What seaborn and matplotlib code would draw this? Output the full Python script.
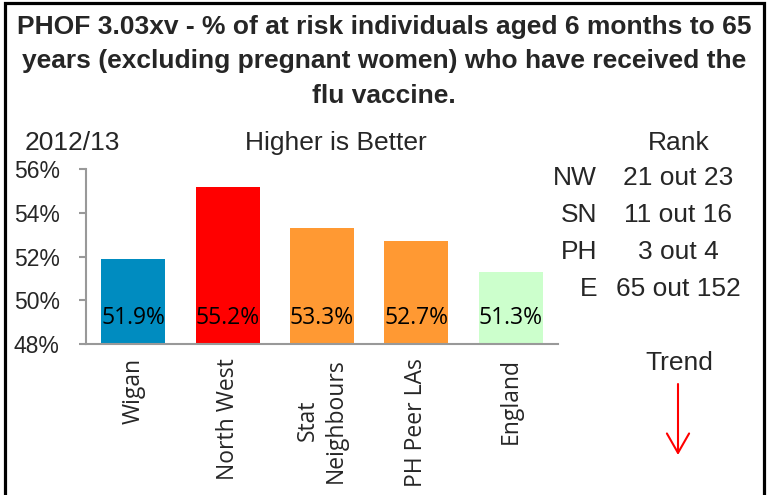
import matplotlib
matplotlib.use("Agg")
import matplotlib.pyplot as plt
from matplotlib.patches import Rectangle, FancyArrowPatch
import pandas as pd
import seaborn as sns

# data
areas = ["Wigan", "North West", "Stat\nNeighbours", "PH Peer LAs", "England"]
values = [51.9, 55.2, 53.3, 52.7, 51.3]
bar_colours = ["#008CC0", "#FF0000", "#FF9933", "#FF9933", "#CCFFCC"]
rank_codes = ["NW", "SN", "PH", "E"]
rank_text = ["21 out 23", "11 out 16", "3 out 4", "65 out 152"]
yticks = [48, 50, 52, 54, 56]

title = ("PHOF 3.03xv - % of at risk individuals aged 6 months to 65\n"
         "years (excluding pregnant women) who have received the\n"
         "flu vaccine.")

sns.set_style("white")
plt.rcParams['font.family'] = ['Liberation Sans', 'DejaVu Sans']

df = pd.DataFrame({'area': areas, 'value': values})

fig = plt.figure(figsize=(7.69, 4.95), dpi=100)
ax = fig.add_axes([86/769, 1-344/495, (558-86)/769, (344-169)/495])

sns.barplot(data=df, x='area', y='value', hue='area', palette=bar_colours,
            width=0.68, legend=False, ax=ax, saturation=1)
for p in ax.patches:
    p.set_edgecolor('none')

ax.set_ylim(48, 56)
ax.set_xlim(-0.5, len(areas) - 0.5)
ax.set_yticks(yticks)
ax.set_yticklabels([f"{t}%" for t in yticks], fontsize=16.5)
ax.set_xlabel("")
ax.set_ylabel("")

# category labels, with ticks at the boundaries
ax.set_xticks(range(len(areas)))
ax.set_xticklabels(areas, rotation=90, fontsize=16.5, family=['Open Sans'],
                   va='top', ha='center', multialignment='center')
ax.tick_params(axis='x', length=0, pad=10)
ax.set_xticks([i - 0.5 for i in range(len(areas) + 1)], minor=True)
ax.tick_params(axis='x', which='minor', length=6, width=1.5, color='#999999',
               direction='out')
ax.tick_params(axis='y', length=5, width=1.5, color='#999999', direction='out',
               left=True, pad=14)

for side in ['top', 'right']:
    ax.spines[side].set_visible(False)
for side in ['left', 'bottom']:
    ax.spines[side].set_color('#999999')
    ax.spines[side].set_linewidth(1.5)

# value labels near the bottom of each bar
for i, v in enumerate(values):
    ax.text(i, 49.2, f"{v:.1f}%", ha='center', va='center', fontsize=16.5,
            family=['Open Sans'], color='black')

# headings and side panel
fig.text(384/769, 1-15/495, title, ha='center', va='top', fontsize=19,
         fontweight='bold', linespacing=1.55)
fig.text(25/769, 1-143/495, "2012/13", ha='left', va='center', fontsize=19)
fig.text(336/769, 1-143/495, "Higher is Better", ha='center', va='center',
         fontsize=19)
fig.text(679/769, 1-143/495, "Rank", ha='center', va='center', fontsize=19)
rank_y = [178, 215, 252, 289]
for code, txt, yy in zip(rank_codes, rank_text, rank_y):
    fig.text(597/769, 1-yy/495, code, ha='right', va='center', fontsize=19)
    fig.text(678/769, 1-yy/495, txt, ha='center', va='center', fontsize=19)
fig.text(679/769, 1-363/495, "Trend", ha='center', va='center', fontsize=19)
fig.patches.append(FancyArrowPatch((678/769, 1-384/495), (678/769, 1-455/495),
                                   transform=fig.transFigure,
                                   arrowstyle='->,head_length=14,head_width=8',
                                   color='#FF0000', lw=1.5, mutation_scale=1,
                                   shrinkA=0, shrinkB=0))

# outer frame (bottom edge is off the picture)
fig.patches.append(Rectangle((4.5/769, -0.05), (763.5-4.5)/769, 1.05-3/495,
                             transform=fig.transFigure, fill=False,
                             edgecolor='black', linewidth=2.3))

fig.savefig("out.png", dpi=100)
